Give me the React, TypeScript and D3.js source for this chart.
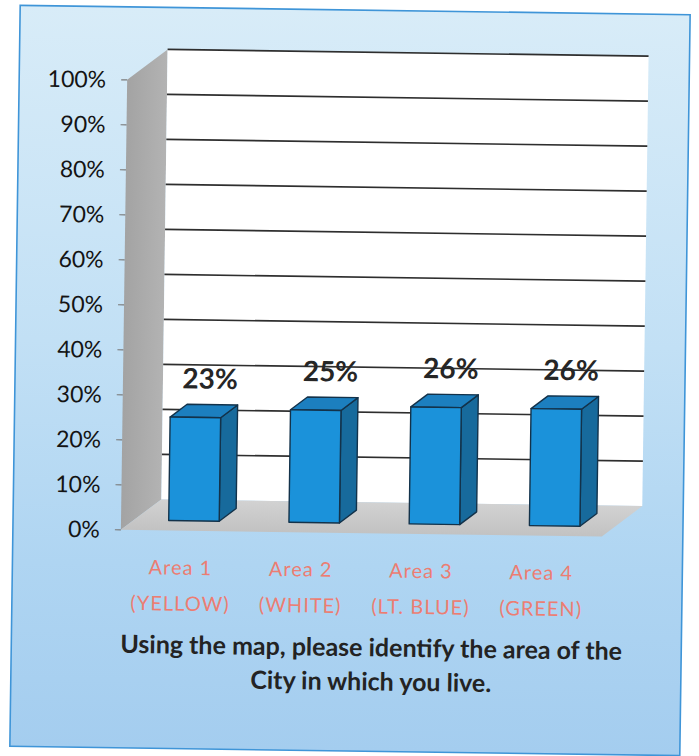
import React from 'react';
import * as d3 from 'd3';

// survey answers, share of respondents per area
const areas = ['Area 1', 'Area 2', 'Area 3', 'Area 4'];
const areaNames = ['(YELLOW)', '(WHITE)', '(LT. BLUE)', '(GREEN)'];
const shares = [0.23, 0.25, 0.26, 0.26];
const shareLabels = ['23%', '25%', '26%', '26%'];
const yTicks = [0, 0.1, 0.2, 0.3, 0.4, 0.5, 0.6, 0.7, 0.8, 0.9, 1.0];
const titleLines = ['Using the map, please identify the area of the', 'City in which you live.'];

const W = 699;
const H = 756;
// fake 3d depth of the plot box
const DX = 40;
const DY = -31;
const barFront = 0.32; // where the columns sit in the depth
const barDepth = 0.42;

const App = () => {
  const x = d3.scaleBand().domain(areas).range([123, 604]).paddingInner(0.58).paddingOuter(0.29);
  const y = d3.scaleLinear().domain([0, 1]).range([533, 83]);
  const fmt = d3.format('.0%');

  const x0 = x.range()[0];
  const x1 = x.range()[1];
  const yBot = y(0);
  const yTop = y(1);
  const pts = (p) => p.map((d) => d.join(',')).join(' ');

  const bw = x.bandwidth();

  return (
    <svg width={W} height={H} style={{ position: 'absolute', left: 0, top: 0, background: '#fff' }}>
      <defs>
        <linearGradient id="bg" x1="0" y1="0" x2="0" y2="1">
          <stop offset="0" stopColor="#d8ecf8" />
          <stop offset="0.45" stopColor="#c2e0f5" />
          <stop offset="0.75" stopColor="#afd5f2" />
          <stop offset="1" stopColor="#a4cdef" />
        </linearGradient>
        <linearGradient id="wall" x1="0" y1="0" x2="1" y2="0">
          <stop offset="0" stopColor="#a3a3a3" />
          <stop offset="1" stopColor="#b3b3b3" />
        </linearGradient>
        <linearGradient id="floor" x1="0" y1="0" x2="0" y2="1">
          <stop offset="0" stopColor="#d2d2d2" />
          <stop offset="1" stopColor="#c2c2c2" />
        </linearGradient>
      </defs>

      {/* the scan is tilted a little */}
      <g transform="rotate(0.8 350 380)">
        <rect x={15} y={10} width={670} height={741} fill="url(#bg)" stroke="#3f95d8" strokeWidth={1.6} />

        {/* left wall */}
        <polygon
          points={pts([[x0, yTop], [x0 + DX, yTop + DY], [x0 + DX, yBot + DY], [x0, yBot]])}
          fill="url(#wall)"
        />
        {/* back wall */}
        <rect x={x0 + DX} y={yTop + DY} width={x1 - x0} height={yBot - yTop} fill="#ffffff" />
        {/* floor */}
        <polygon
          points={pts([[x0, yBot], [x0 + DX, yBot + DY], [x1 + DX, yBot + DY], [x1, yBot]])}
          fill="url(#floor)"
        />

        {/* gridlines on the back wall */}
        {yTicks.filter((t) => t > 0).map((t) => (
          <line key={t} x1={x0 + DX} x2={x1 + DX} y1={y(t) + DY} y2={y(t) + DY} stroke="#2e2e2e" strokeWidth={1.6} />
        ))}

        {/* y axis */}
        {yTicks.map((t) => (
          <g key={t}>
            <line x1={x0 - 6} x2={x0} y1={y(t)} y2={y(t)} stroke="#7a7a7a" strokeWidth={1.2} />
            <text
              x={102}
              y={y(t)}
              dy="0.35em"
              textAnchor="end"
              fontFamily="Lato, 'Open Sans', sans-serif"
              fontSize={23}
              fill="#141414"
            >
              {fmt(t)}
            </text>
          </g>
        ))}

        {/* columns */}
        {areas.map((a, i) => {
          const fx0 = x(a) + barFront * DX;
          const fx1 = fx0 + bw;
          const fb = yBot + barFront * DY;
          const ft = y(shares[i]) + barFront * DY;
          const ox = barDepth * DX;
          const oy = barDepth * DY;
          return (
            <g key={a} stroke="#13324a" strokeWidth={1.4} strokeLinejoin="round">
              <polygon points={pts([[fx1, ft], [fx1 + ox, ft + oy], [fx1 + ox, fb + oy], [fx1, fb]])} fill="#176a9c" />
              <polygon points={pts([[fx0, ft], [fx0 + ox, ft + oy], [fx1 + ox, ft + oy], [fx1, ft]])} fill="#1c7fbf" />
              <rect x={fx0} y={ft} width={bw} height={fb - ft} fill="#1b92da" />
            </g>
          );
        })}

        {/* value labels */}
        {areas.map((a, i) => (
          <text
            key={a}
            x={x(a) + bw / 2 + 27}
            y={y(shares[i]) + barFront * DY - 29}
            textAnchor="middle"
            fontFamily="Lato, 'Open Sans', sans-serif"
            fontWeight="bold"
            fontSize={28}
            fill="#262626"
          >
            {shareLabels[i]}
          </text>
        ))}

        {/* category labels */}
        {areas.map((a, i) => (
          <text
            key={a}
            x={x(a) + bw / 2}
            textAnchor="middle"
            fontFamily="Lato, 'Open Sans', sans-serif"
            fontSize={20}
            letterSpacing={1}
            fill="#ec7d72"
          >
            <tspan x={x(a) + bw / 2} y={577}>{a}</tspan>
            <tspan x={x(a) + bw / 2} y={613}>{areaNames[i]}</tspan>
          </text>
        ))}

        {/* axis title */}
        {titleLines.map((l, i) => (
          <text
            key={l}
            x={375}
            y={656 + i * 34}
            textAnchor="middle"
            fontFamily="Lato, 'Open Sans', sans-serif"
            fontWeight="bold"
            fontSize={25}
            fill="#232323"
          >
            {l}
          </text>
        ))}
      </g>
    </svg>
  );
};

export default App;
